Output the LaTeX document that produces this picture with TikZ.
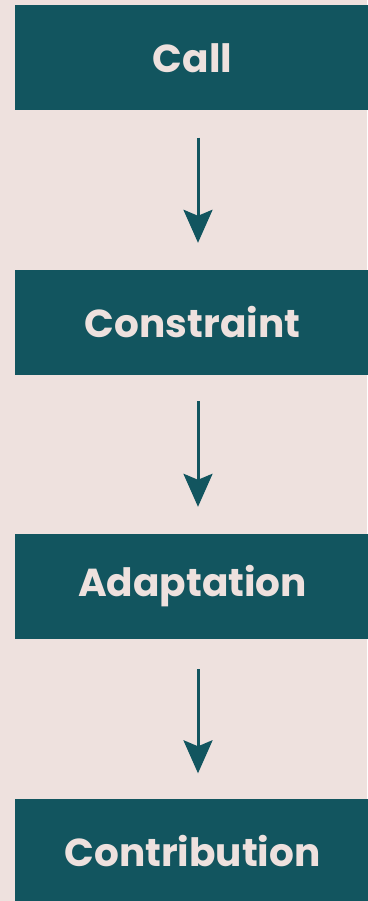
\documentclass[tikz,border=0pt]{standalone}
\usepackage{fontspec}
\setmainfont{Poppins}
\usetikzlibrary{arrows.meta}
\definecolor{bgpink}{HTML}{EEE1DE}
\definecolor{teal}{HTML}{12555F}
\tikzset{
  stagebox/.style={shape=rectangle, fill=teal, text=bgpink, minimum width=355pt, minimum height=105pt, inner sep=0pt, font=\fontsize{39}{44}\selectfont\bfseries},
  flow/.style={color=teal, line width=3pt, -{Stealth[length=33pt, width=29pt, inset=6pt]}}
}
\begin{document}
\begin{tikzpicture}[x=1pt, y=-1pt]
\fill[bgpink] (0,0) rectangle (367,901);
\useasboundingbox (0,0) rectangle (367,901);
\node[stagebox] (call) at (192.5,58) {Call};
\node[stagebox] (constraint) at (192.5,322.5) {Constraint};
\node[stagebox] (adaptation) at (192.5,586.5) {Adaptation};
\node[stagebox] (contribution) at (192.5,851) {Contribution};
\draw [flow] ([xshift=5.5pt, yshift=-27pt]call.south) -- ([xshift=5.5pt, yshift=27pt]constraint.north);
\draw [flow] ([xshift=5.5pt, yshift=-26pt]constraint.south) -- ([xshift=5.5pt, yshift=27pt]adaptation.north);
\draw [flow] ([xshift=5.5pt, yshift=-30pt]adaptation.south) -- ([xshift=5.5pt, yshift=25pt]contribution.north);
\end{tikzpicture}
\end{document}
